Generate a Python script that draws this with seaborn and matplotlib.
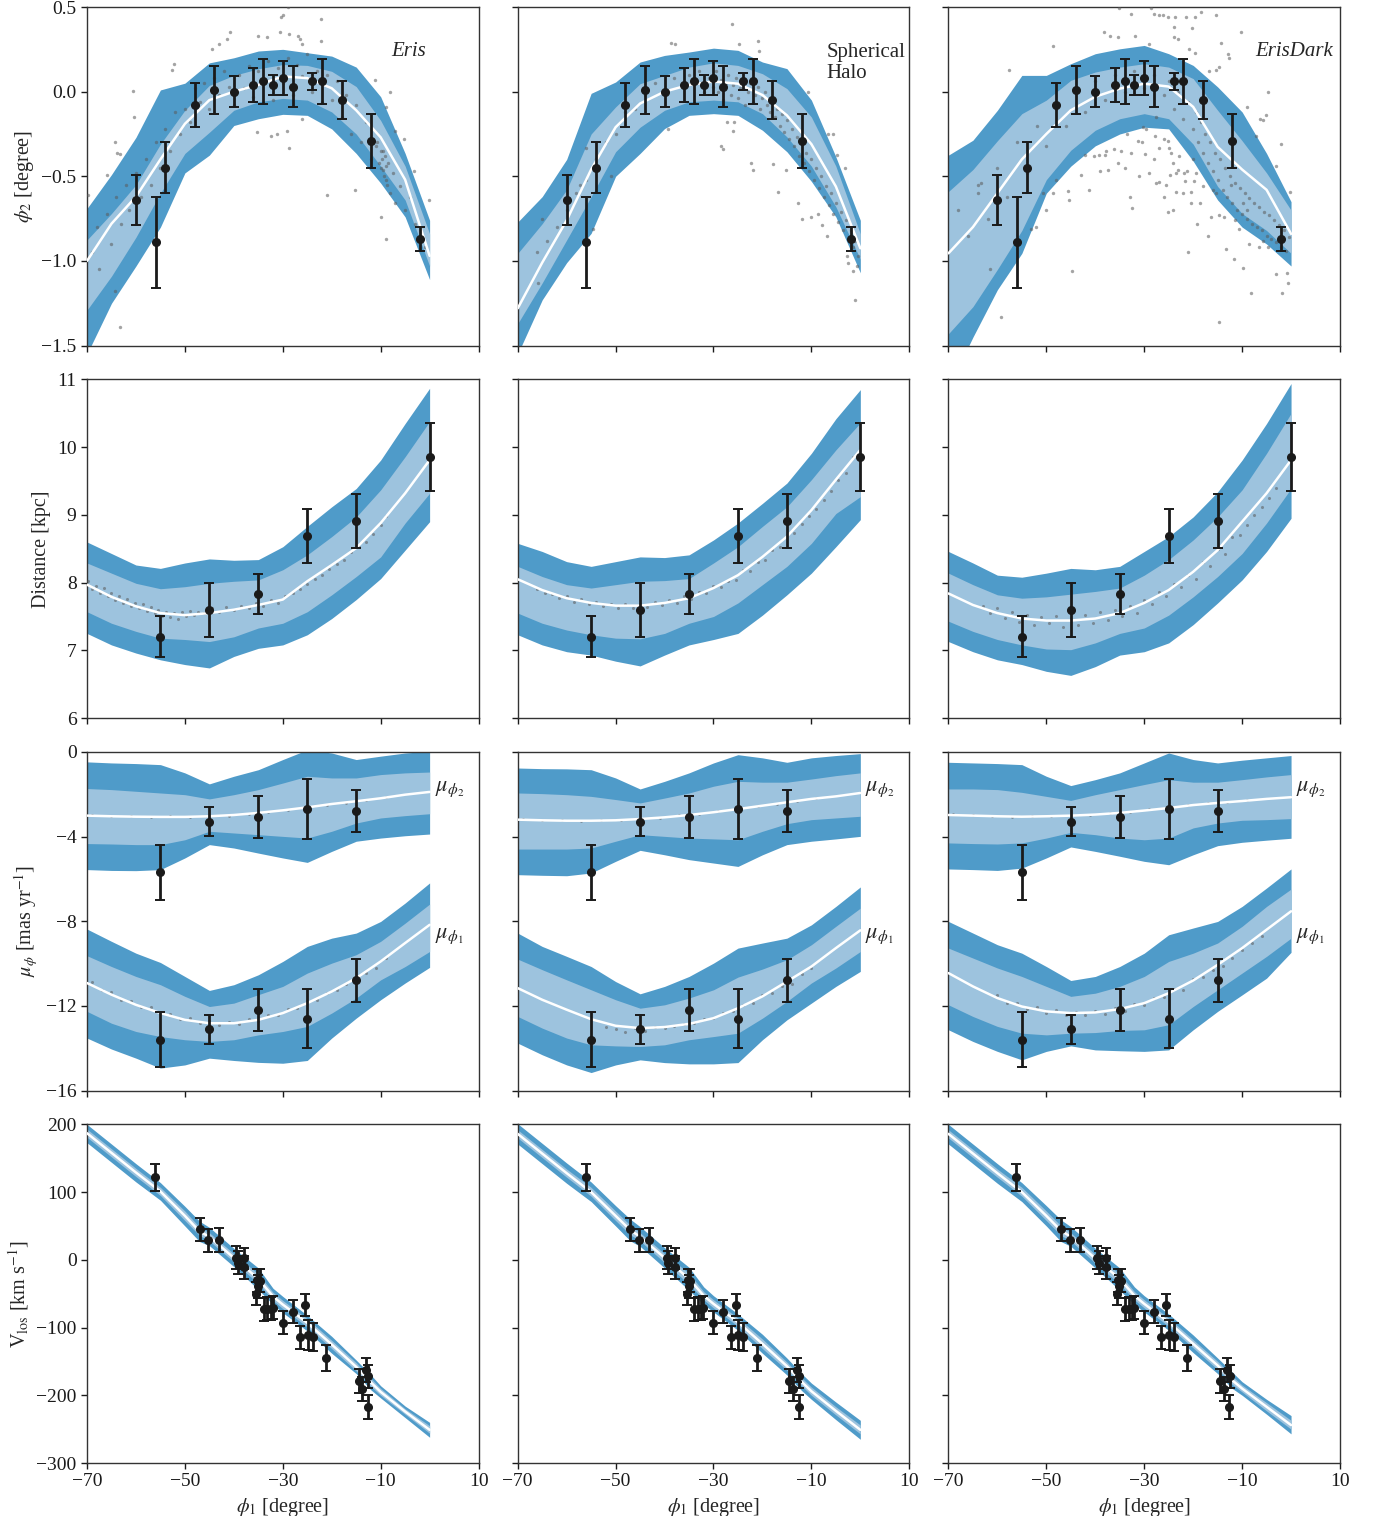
import numpy as np
import pandas as pd
import matplotlib
matplotlib.use("Agg")
import matplotlib.pyplot as plt
import seaborn as sns

# ---------------- data ----------------
KN = [-70, -65, -60, -55, -50, -45, -40, -35, -30, -25, -20, -15, -10, -5, 0]
MODELS = ["Eris", "Spherical", "ErisDark"]

# phi2 track: (outer_lo, inner_lo, mean, inner_up, outer_up)
phi2_eris = dict(
    olo=[-1.55, -1.25, -1.03, -0.80, -0.48, -0.375, -0.20, -0.16, -0.134, -0.14, -0.22, -0.365, -0.54, -0.74, -1.11],
    ilo=[-1.29, -1.09, -0.86, -0.60, -0.365, -0.24, -0.11, -0.06, -0.04, -0.05, -0.12, -0.25, -0.44, -0.64, -1.03],
    mean=[-1.0, -0.78, -0.62, -0.40, -0.19, -0.05, 0.0, 0.04, 0.09, 0.08, 0.02, -0.11, -0.27, -0.52, -0.97],
    iup=[-0.876, -0.72, -0.55, -0.31, -0.11, 0.037, 0.096, 0.135, 0.16, 0.155, 0.12, 0.03, -0.17, -0.44, -0.84],
    oup=[-0.69, -0.49, -0.27, 0.01, 0.05, 0.17, 0.20, 0.24, 0.25, 0.23, 0.21, 0.145, -0.03, -0.365, -0.76])
phi2_sph = dict(
    olo=[-1.55, -1.23, -1.01, -0.837, -0.50, -0.365, -0.218, -0.14, -0.13, -0.14, -0.228, -0.355, -0.53, -0.74, -1.07],
    ilo=[-1.37, -1.13, -0.876, -0.62, -0.355, -0.21, -0.11, -0.06, -0.05, -0.06, -0.13, -0.267, -0.44, -0.68, -0.99],
    mean=[-1.28, -1.01, -0.76, -0.46, -0.21, -0.07, 0.0, 0.04, 0.06, 0.047, -0.02, -0.14, -0.31, -0.56, -0.925],
    iup=[-0.955, -0.78, -0.58, -0.25, -0.09, 0.047, 0.096, 0.145, 0.17, 0.155, 0.106, 0.018, -0.15, -0.44, -0.84],
    oup=[-0.77, -0.62, -0.40, -0.01, 0.057, 0.175, 0.214, 0.234, 0.257, 0.244, 0.175, 0.136, -0.05, -0.385, -0.76])
phi2_dark = dict(
    olo=[-1.75, -1.45, -1.17, -0.955, -0.60, -0.44, -0.32, -0.25, -0.21, -0.22, -0.41, -0.64, -0.80, -0.90, -1.03],
    ilo=[-1.43, -1.27, -1.05, -0.82, -0.52, -0.346, -0.228, -0.16, -0.13, -0.16, -0.31, -0.56, -0.72, -0.82, -0.955],
    mean=[-0.955, -0.80, -0.60, -0.40, -0.25, -0.11, -0.03, 0.018, 0.047, 0.03, -0.09, -0.326, -0.46, -0.58, -0.84],
    iup=[-0.59, -0.46, -0.29, -0.13, -0.05, 0.067, 0.116, 0.145, 0.165, 0.145, 0.077, -0.11, -0.29, -0.48, -0.70],
    oup=[-0.375, -0.287, -0.11, 0.096, 0.096, 0.165, 0.224, 0.253, 0.273, 0.224, 0.155, 0.028, -0.12, -0.365, -0.65])

dist_eris = dict(
    olo=[7.25, 7.08, 6.96, 6.86, 6.79, 6.74, 6.91, 7.03, 7.08, 7.23, 7.47, 7.75, 8.06, 8.48, 8.90],
    ilo=[7.57, 7.40, 7.28, 7.18, 7.16, 7.13, 7.20, 7.33, 7.40, 7.57, 7.82, 8.09, 8.38, 8.88, 9.32],
    mean=[7.97, 7.79, 7.65, 7.55, 7.52, 7.55, 7.60, 7.67, 7.75, 8.02, 8.26, 8.51, 8.88, 9.32, 9.81],
    iup=[8.29, 8.14, 7.99, 7.91, 7.94, 7.99, 8.02, 8.04, 8.19, 8.41, 8.68, 8.97, 9.37, 9.86, 10.38],
    oup=[8.60, 8.43, 8.26, 8.21, 8.29, 8.35, 8.33, 8.34, 8.53, 8.83, 9.12, 9.39, 9.81, 10.35, 10.87])
dist_sph = dict(
    olo=[7.23, 7.08, 6.98, 6.93, 6.84, 6.77, 6.93, 7.08, 7.16, 7.25, 7.52, 7.82, 8.14, 8.53, 8.93],
    ilo=[7.55, 7.40, 7.30, 7.23, 7.18, 7.17, 7.25, 7.40, 7.50, 7.70, 7.97, 8.24, 8.58, 9.02, 9.27],
    mean=[8.05, 7.89, 7.77, 7.70, 7.66, 7.66, 7.70, 7.77, 7.92, 8.11, 8.38, 8.68, 9.07, 9.52, 9.96],
    iup=[8.24, 8.09, 7.97, 7.92, 7.97, 8.02, 8.03, 8.06, 8.29, 8.53, 8.83, 9.12, 9.52, 9.96, 10.36],
    oup=[8.58, 8.46, 8.31, 8.24, 8.31, 8.38, 8.37, 8.41, 8.63, 8.88, 9.17, 9.47, 9.91, 10.42, 10.85])
dist_dark = dict(
    olo=[7.13, 6.98, 6.86, 6.79, 6.69, 6.63, 6.76, 6.93, 6.98, 7.11, 7.38, 7.70, 8.04, 8.46, 8.95],
    ilo=[7.43, 7.28, 7.16, 7.08, 7.02, 7.01, 7.11, 7.25, 7.33, 7.52, 7.79, 8.09, 8.43, 8.88, 9.39],
    mean=[7.84, 7.67, 7.55, 7.47, 7.44, 7.44, 7.47, 7.55, 7.70, 7.89, 8.16, 8.48, 8.90, 9.32, 9.81],
    iup=[8.14, 7.97, 7.82, 7.77, 7.79, 7.83, 7.87, 7.92, 8.11, 8.34, 8.63, 8.97, 9.37, 9.91, 10.50],
    oup=[8.46, 8.29, 8.11, 8.08, 8.14, 8.21, 8.19, 8.24, 8.46, 8.68, 8.97, 9.34, 9.81, 10.35, 10.94])

mu2_eris = dict(
    olo=[-5.56, -5.60, -5.61, -5.56, -5.01, -4.38, -4.54, -4.78, -5.01, -5.22, -4.70, -4.22, -4.07, -3.96, -3.88],
    ilo=[-4.33, -4.35, -4.38, -4.38, -4.15, -3.75, -3.83, -3.91, -3.99, -4.07, -3.75, -3.36, -3.12, -3.01, -2.92],
    mean=[-3.01, -3.04, -3.06, -3.07, -3.07, -3.04, -2.98, -2.88, -2.76, -2.62, -2.46, -2.33, -2.19, -2.02, -1.89],
    iup=[-1.73, -1.78, -1.86, -1.94, -2.02, -2.22, -2.02, -1.78, -1.47, -1.15, -1.23, -1.23, -1.07, -0.99, -0.95],
    oup=[-0.47, -0.52, -0.55, -0.60, -0.99, -1.51, -1.15, -0.84, -0.36, 0.10, -0.05, -0.36, -0.20, -0.05, 0.03])
mu1_eris = dict(
    olo=[-13.52, -14.04, -14.47, -14.94, -14.79, -14.47, -14.58, -14.67, -14.71, -14.58, -13.52, -12.58, -11.71, -10.92, -10.18],
    ilo=[-12.26, -12.82, -13.21, -13.45, -13.60, -13.68, -13.60, -13.37, -13.21, -12.97, -12.34, -11.63, -10.77, -10.14, -9.43],
    mean=[-10.92, -11.47, -11.95, -12.34, -12.66, -12.82, -12.82, -12.66, -12.34, -11.87, -11.32, -10.69, -9.90, -9.03, -8.17],
    iup=[-9.63, -10.14, -10.61, -11.00, -11.55, -12.03, -11.87, -11.47, -11.08, -10.45, -9.98, -9.58, -8.95, -8.09, -7.19],
    oup=[-8.37, -8.95, -9.51, -9.95, -10.61, -11.27, -11.00, -10.53, -9.90, -9.19, -8.80, -8.56, -8.01, -7.14, -6.19])
mu2_sph = dict(
    olo=[-5.80, -5.83, -5.85, -5.72, -5.17, -4.65, -4.86, -5.09, -5.25, -5.41, -4.86, -4.38, -4.22, -4.11, -3.99],
    ilo=[-4.59, -4.59, -4.59, -4.54, -4.22, -3.91, -3.99, -4.07, -4.11, -4.15, -3.75, -3.39, -3.20, -3.12, -3.04],
    mean=[-3.20, -3.23, -3.25, -3.25, -3.23, -3.17, -3.09, -2.98, -2.85, -2.70, -2.54, -2.38, -2.22, -2.10, -1.94],
    iup=[-1.94, -1.97, -2.02, -2.10, -2.25, -2.41, -2.18, -1.94, -1.62, -1.39, -1.43, -1.43, -1.28, -1.12, -0.99],
    oup=[-0.76, -0.79, -0.80, -0.84, -1.23, -1.75, -1.39, -0.99, -0.52, -0.13, -0.28, -0.49, -0.28, -0.17, -0.08])
mu1_sph = dict(
    olo=[-13.76, -14.31, -14.79, -15.15, -14.79, -14.55, -14.68, -14.74, -14.74, -14.68, -13.60, -12.66, -11.87, -11.08, -10.37],
    ilo=[-12.50, -13.05, -13.52, -13.84, -13.89, -13.92, -13.84, -13.60, -13.45, -13.29, -12.58, -11.79, -10.92, -10.21, -9.43],
    mean=[-11.16, -11.71, -12.18, -12.63, -12.94, -13.05, -13.00, -12.85, -12.58, -12.11, -11.55, -10.85, -10.14, -9.27, -8.43],
    iup=[-9.79, -10.29, -10.77, -11.24, -11.71, -12.11, -11.95, -11.63, -11.24, -10.64, -10.26, -9.82, -9.11, -8.24, -7.38],
    oup=[-8.56, -9.19, -9.66, -10.14, -10.85, -11.43, -11.08, -10.61, -9.98, -9.27, -9.03, -8.80, -8.17, -7.30, -6.38])
mu2_dark = dict(
    olo=[-5.53, -5.56, -5.60, -5.49, -5.01, -4.49, -4.70, -4.93, -5.17, -5.33, -4.86, -4.43, -4.27, -4.17, -4.08],
    ilo=[-4.30, -4.33, -4.35, -4.30, -4.07, -3.80, -3.91, -4.07, -4.15, -4.07, -3.59, -3.36, -3.23, -3.20, -3.15],
    mean=[-2.98, -3.01, -3.04, -3.06, -3.04, -3.01, -2.96, -2.88, -2.77, -2.65, -2.51, -2.41, -2.32, -2.22, -2.14],
    iup=[-1.75, -1.75, -1.78, -1.91, -2.10, -2.29, -2.02, -1.78, -1.54, -1.31, -1.43, -1.43, -1.31, -1.18, -1.07],
    oup=[-0.49, -0.52, -0.55, -0.60, -1.15, -1.59, -1.31, -0.99, -0.52, -0.05, -0.36, -0.52, -0.39, -0.28, -0.17])
mu1_dark = dict(
    olo=[-13.13, -13.68, -14.15, -14.55, -14.15, -13.89, -14.08, -14.12, -14.15, -14.08, -13.13, -12.26, -11.48, -10.69, -9.47],
    ilo=[-11.95, -12.50, -12.97, -13.29, -13.37, -13.29, -13.26, -13.16, -13.13, -12.89, -12.03, -11.24, -10.45, -9.66, -8.80],
    mean=[-10.45, -11.08, -11.63, -12.03, -12.26, -12.34, -12.31, -12.15, -11.87, -11.40, -10.80, -10.06, -9.27, -8.40, -7.53],
    iup=[-9.27, -9.74, -10.21, -10.61, -11.08, -11.55, -11.40, -11.08, -10.61, -9.90, -9.51, -9.03, -8.24, -7.30, -6.48],
    oup=[-8.01, -8.56, -9.11, -9.51, -10.14, -10.80, -10.61, -10.14, -9.51, -8.64, -8.32, -8.01, -7.30, -6.43, -5.53])

VKN = [-70, -65, -60, -55, -50, -47, -45, -40, -35, -32, -30, -25, -20, -15, -12, -10, -5, 0]
vlos_eris = dict(
    olo=[173, 144, 115, 88, 50, 27, 21, -10, -44, -66, -78, -105, -138, -168, -192, -204, -233, -262],
    ilo=[181, 152, 123, 95, 58, 36, 28, -3, -35, -60, -72, -99, -131, -164, -187, -200, -228, -256],
    mean=[187, 158, 129, 101, 65, 42, 34, 3, -28, -54, -66, -93, -125, -158, -181, -195, -224, -251],
    iup=[193, 164, 135, 107, 72, 48, 40, 9, -21, -48, -60, -87, -119, -152, -175, -190, -220, -245],
    oup=[200, 171, 142, 114, 79, 57, 48, 17, -12, -42, -54, -82, -113, -148, -170, -186, -216, -240])
vlos_sph = dict(
    olo=[171, 142, 113, 86, 50, 28, 20, -12, -45, -66, -77, -104, -138, -170, -193, -206, -236, -265],
    ilo=[180, 151, 122, 94, 58, 37, 28, -4, -36, -59, -71, -98, -131, -163, -186, -200, -229, -257],
    mean=[186, 157, 128, 100, 65, 44, 34, 3, -28, -53, -65, -92, -124, -157, -180, -194, -223, -251],
    iup=[192, 163, 134, 107, 72, 51, 40, 9, -20, -47, -59, -86, -117, -151, -174, -188, -217, -244],
    oup=[201, 172, 143, 115, 80, 60, 49, 18, -11, -40, -53, -80, -110, -145, -168, -182, -210, -237])
vlos_dark = dict(
    olo=[171, 142, 113, 86, 50, 27, 20, -12, -45, -66, -77, -104, -137, -168, -190, -200, -228, -257],
    ilo=[180, 151, 122, 94, 58, 36, 28, -5, -36, -59, -71, -98, -130, -162, -184, -195, -223, -250],
    mean=[186, 157, 128, 100, 65, 43, 34, 2, -28, -53, -65, -92, -124, -156, -178, -190, -217, -244],
    iup=[192, 163, 134, 107, 72, 50, 40, 8, -21, -47, -59, -86, -118, -150, -172, -185, -211, -237],
    oup=[200, 171, 142, 114, 80, 59, 49, 17, -12, -40, -53, -80, -111, -145, -166, -180, -206, -230])

# observations (same for all columns)
obs_phi2_x = [-60, -56, -54, -48, -44, -40, -36, -34, -32, -30, -28, -24, -22, -18, -12, -2]
obs_phi2_y = [-0.64, -0.89, -0.45, -0.08, 0.01, 0.0, 0.04, 0.06, 0.04, 0.08, 0.03, 0.06, 0.06, -0.05, -0.29, -0.87]
obs_phi2_e = [0.15, 0.27, 0.15, 0.13, 0.14, 0.09, 0.10, 0.13, 0.06, 0.10, 0.12, 0.05, 0.13, 0.11, 0.16, 0.07]
obs_dist_x = [-55, -45, -35, -25, -15, 0]
obs_dist_y = [7.20, 7.59, 7.83, 8.69, 8.91, 9.86]
obs_dist_e = [0.30, 0.40, 0.30, 0.40, 0.40, 0.50]
obs_mu_x = [-55, -45, -35, -25, -15]
obs_mu2_y = [-5.69, -3.29, -3.09, -2.70, -2.79]
obs_mu2_e = [1.3, 0.7, 1.0, 1.4, 1.0]
obs_mu1_y = [-13.60, -13.11, -12.20, -12.61, -10.80]
obs_mu1_e = [1.3, 0.7, 1.0, 1.4, 1.0]
obs_v_x = [-56.1, -47.0, -45.2, -43.1, -39.6, -39.2, -37.9, -37.9, -35.5, -35.3, -35.1, -34.7, -33.9, -33.2,
           -32.5, -32.1, -30.0, -28.0, -26.5, -25.5, -24.9, -23.9, -21.2, -14.5, -13.8, -13.0, -12.5, -12.6]
obs_v_y = [122, 45, 29, 29, 3, -4, 2, -11, -50, -30, -39, -31, -73, -72,
           -72, -71, -93, -77, -114, -67, -111, -114, -145, -179, -191, -163, -172, -217]
obs_v_e = [20, 17, 17, 18, 17, 17, 16, 17, 17, 17, 17, 17, 17, 17,
           17, 17, 17, 17, 17, 16, 22, 20, 19, 18, 18, 18, 17, 18]

# simulated stream particles (phi1, value)
part_phi2_eris = [
    (-60.5, 0.004), (-60.4, -0.15), (-64.3, -0.30), (-63.9, -0.36), (-63.2, -0.37), (-66, -0.49), (-69.7, -0.61),
    (-64.3, -1.18), (-63.2, -1.39), (-52.3, 0.165), (-52.7, 0.126), (-44.5, 0.25), (-43.1, 0.28), (-40.7, 0.35),
    (-41.4, 0.31), (-35.1, 0.33), (-33.2, 0.32), (-30.6, 0.35), (-30.3, 0.44), (-30, 0.45), (-29, 0.50),
    (-28.8, 0.34), (-26.8, 0.33), (-26.5, 0.31), (-26.1, 0.28), (-22.2, 0.43), (-22.2, 0.30), (-35.3, -0.24),
    (-32.5, -0.26), (-31.2, -0.25), (-29.2, -0.23), (-28.8, -0.33), (-26.1, -0.16), (-21, -0.61), (-11.1, 0.067),
    (-8, 0.0), (-9, -0.09), (-7, -0.23), (-5.3, -0.28), (-3.2, -0.47), (-0.15, -0.64), (-9, -0.87), (-10, -0.74),
    (-15.2, -0.58),
    (-69, -0.95), (-68, -0.80), (-67.5, -1.05), (-66, -0.72), (-65, -0.90), (-64, -0.62), (-63, -0.78), (-62, -0.55),
    (-61.5, -0.70), (-60, -0.48), (-59, -0.62), (-58, -0.40), (-57, -0.55), (-56, -0.30), (-55, -0.45), (-54, -0.22),
    (-53, -0.35), (-52, -0.12), (-51, -0.25), (-50, -0.10), (-49, -0.18), (-48, 0.02), (-47, -0.06), (-46, 0.05),
    (-45, -0.10), (-44, 0.08), (-43, -0.02), (-42, 0.12), (-41, 0.03), (-40, -0.08), (-39, 0.10), (-38, 0.02),
    (-37, 0.15), (-36, -0.03), (-35, 0.12), (-34, 0.06), (-33, 0.18), (-32, -0.05), (-31, 0.14), (-30, 0.05),
    (-29, 0.20), (-28, -0.02), (-27, 0.16), (-26, 0.09), (-25, 0.22), (-24, 0.0), (-23, 0.12), (-22, -0.06),
    (-21, 0.10), (-20, -0.05), (-19, 0.06), (-18, -0.15), (-17, -0.02), (-16, -0.25), (-15, -0.08), (-14, -0.30),
    (-13, -0.18), (-12, -0.40), (-11, -0.32), (-10, -0.45), (-9.5, -0.35), (-9, -0.52), (-8.5, -0.42), (-8, -0.60),
    (-7.5, -0.48), (-7, -0.66), (-6, -0.56), (-5, -0.70), (-4, -0.62), (-3, -0.78), (-2, -0.85), (-1, -0.92),
    (-10, -0.35), (-9.8, -0.40), (-9.6, -0.46), (-9.4, -0.50), (-9.2, -0.38), (-9, -0.44), (-8.8, -0.55),
    (-10.4, -0.42), (-10.8, -0.30)]
part_phi2_sph = [
    (-26.2, 0.40), (-38.6, 0.29), (-37.9, 0.28), (-24.8, 0.28), (-21.0, 0.30), (-20.7, 0.24), (-10.6, 0.0),
    (-39.3, -0.22), (-28.4, -0.32), (-28.0, -0.34), (-26, -0.23), (-27.3, -0.18), (-25.8, -0.18), (-22.4, -0.42),
    (-21.9, -0.46), (-17.8, -0.43), (-16.8, -0.59), (-15.1, -0.46), (-12.7, -0.66), (-12, -0.75), (-10, -0.74),
    (-8.6, -0.72), (-7.9, -0.79), (-6.9, -0.85), (-6.6, -0.25), (-5.5, -0.25), (-4.7, -0.375), (-3.2, -0.45),
    (-2.8, -0.97), (-2.5, -1.01), (-1.6, -1.06), (-1.1, -1.23), (-0.7, -1.03), (-65, -0.75), (-54.6, -0.81),
    (-65.8, -1.13), (-50.9, -0.50), (-56, -0.33), (-57.2, -0.55),
    (-66, -0.95), (-64, -0.88), (-62, -0.80), (-60, -0.70), (-58, -0.60), (-56, -0.52), (-54, -0.40), (-52, -0.30),
    (-50, -0.25), (-48, -0.12), (-46, -0.10), (-44, -0.02), (-42, 0.05), (-40, -0.02), (-38, 0.08), (-36, 0.02),
    (-35, 0.10), (-34, 0.05), (-33, 0.12), (-32, 0.0), (-31, 0.08), (-30, 0.03), (-29.5, 0.12), (-29, 0.0),
    (-28.5, 0.07), (-28, -0.05), (-27.5, 0.05), (-27, 0.10), (-26.5, -0.02), (-26, 0.04), (-25.5, 0.08),
    (-25, -0.04), (-24.5, 0.02), (-24, 0.06), (-23.5, -0.08), (-23, 0.0), (-22.5, 0.05), (-22, -0.06),
    (-21.5, -0.02), (-21, 0.03), (-20.5, -0.10), (-20, -0.04), (-19.5, 0.0), (-19, -0.08), (-18.5, -0.12),
    (-18, -0.05), (-17.5, -0.15), (-17, -0.10), (-16.5, -0.20), (-16, -0.13), (-15.5, -0.24), (-15, -0.17),
    (-14.5, -0.28), (-14, -0.22), (-13.5, -0.32), (-13, -0.27), (-12.5, -0.38), (-12, -0.31), (-11.5, -0.42),
    (-11, -0.36), (-10.5, -0.47), (-10, -0.40), (-9.5, -0.52), (-9, -0.45), (-8.5, -0.57), (-8, -0.50),
    (-7.5, -0.62), (-7, -0.56), (-6.5, -0.67), (-6, -0.60), (-5.5, -0.72), (-5, -0.66), (-4.5, -0.77),
    (-4, -0.71), (-3.5, -0.82), (-3, -0.76), (-2.5, -0.87), (-2, -0.82), (-1.5, -0.92), (-1, -0.88), (-0.5, -0.97)]
part_phi2_dark = [
    (-35.2, 0.495), (-32.7, 0.46), (-28.7, 0.495), (-27.9, 0.46), (-27.0, 0.455), (-26.2, 0.45), (-25.2, 0.44),
    (-23.8, 0.44), (-21.5, 0.44), (-19.6, 0.44), (-18.4, 0.47), (-15.3, 0.45), (-24, 0.38), (-20.2, 0.375),
    (-23.9, 0.32), (-23.2, 0.31), (-38.3, 0.35), (-36.9, 0.33), (-35.4, 0.32), (-31.9, 0.33), (-29.1, 0.28),
    (-48.7, 0.27), (-57.7, 0.13), (-20.8, 0.25), (-19.6, 0.23), (-14.3, 0.29), (-10.2, 0.35), (-12.8, 0.22),
    (-12.7, 0.20), (-16.8, 0.12), (-15.4, 0.125), (-14.7, 0.145),
    (-48, -0.52), (-50, -0.70), (-48.7, -0.60), (-50.7, -0.60), (-45.6, -0.585), (-45.4, -0.64), (-42.9, -0.49),
    (-41.3, -0.58), (-42, -0.375), (-40.2, -0.38), (-39.2, -0.375), (-38, -0.375), (-39, -0.47), (-37.3, -0.46),
    (-36.1, -0.34), (-34.7, -0.35), (-35.4, -0.42), (-33, -0.62), (-32.5, -0.69), (-31, -0.50), (-32.7, -0.365),
    (-31.3, -0.29), (-30.3, -0.21), (-29.6, -0.22), (-29.8, -0.37), (-29, -0.48), (-27.8, -0.26), (-26.9, -0.33),
    (-25.9, -0.28), (-25.2, -0.29), (-24.9, -0.33), (-24.5, -0.365), (-24.2, -0.42), (-23.5, -0.48),
    (-23.2, -0.46), (-25.2, -0.71), (-27.6, -0.54), (-26.9, -0.535), (-25.5, -0.55), (-24.7, -0.49),
    (-23.6, -0.59), (-22.1, -0.60), (-21.8, -0.48), (-21.6, -0.53), (-21.3, -0.47), (-19.8, -0.53),
    (-19.4, -0.48), (-20.4, -0.66), (-20.4, -0.59), (-21.1, -0.95), (-19.2, -0.78), (-18.7, -0.66),
    (-16.4, -0.74), (-16, -0.58), (-15.3, -0.60), (-14.7, -0.73), (-13.6, -0.74), (-13.3, -0.93), (-11.6, -0.99),
    (-11.4, -0.76), (-10.6, -0.81), (-9.9, -1.04), (-8.5, -0.90), (-8.2, -1.19), (-6.5, -0.92), (-5.8, -0.88),
    (-4.8, -0.92), (-4.8, 0.0), (-5.1, -0.14), (-6.4, -0.16), (-5.8, -0.17), (-8.9, -0.09), (-7.2, -0.26),
    (-3.1, -0.44), (-2.1, -0.31), (-3.1, -1.08), (-1.9, -1.19), (-0.7, -1.13), (-0.2, -0.59), (-0.9, -1.07),
    (-14.7, -1.36), (-59.2, -1.33), (-53.1, -0.81), (-52.2, -0.80), (-61.6, -1.05), (-63.3, -0.54), (-64, -0.60),
    (-44.7, -1.06), (-37.8, -0.35), (-24.2, -0.70), (-12.3, -0.55), (-9.9, -0.66), (-8.9, -0.70), (-34, -0.45),
    (-28, -0.40), (-26, -0.62), (-22.8, -0.38), (-20, -0.40), (-18, -0.56), (-17, -0.85), (-27.5, -0.15),
    (-30.5, -0.30), (-33.5, -0.25),
    (-68, -0.70), (-66, -0.85), (-64, -0.55), (-62, -0.75), (-60, -0.45), (-58, -0.62), (-56, -0.30), (-54, -0.48),
    (-52, -0.20), (-50, -0.32), (-48, -0.10), (-46, -0.20), (-44, 0.0), (-42, -0.12), (-40, 0.06), (-38, -0.05),
    (-36, 0.10), (-34, 0.0), (-32, 0.12), (-30, 0.02), (-28, 0.10), (-26, -0.02), (-25, 0.06), (-24, -0.10),
    (-23, 0.0), (-22, -0.16), (-21, -0.06), (-20, -0.22), (-19.5, -0.12), (-19, -0.30), (-18.5, -0.18),
    (-18, -0.36), (-17.5, -0.25), (-17, -0.42), (-16.5, -0.30), (-16, -0.47), (-15.5, -0.36), (-15, -0.52),
    (-14.5, -0.40), (-14, -0.58), (-13.5, -0.45), (-13, -0.62), (-12.5, -0.50), (-12, -0.66), (-11.5, -0.54),
    (-11, -0.70), (-10.5, -0.57), (-10, -0.72), (-9.5, -0.60), (-9, -0.75), (-8.5, -0.63), (-8, -0.78),
    (-7.5, -0.66), (-7, -0.80), (-6.5, -0.68), (-6, -0.82), (-5.5, -0.71), (-5, -0.85), (-4.5, -0.73),
    (-4, -0.87), (-3.5, -0.76), (-3, -0.89), (-2.5, -0.79), (-2, -0.92), (-1.5, -0.82), (-1, -0.94), (-0.5, -0.86)]

part_dist_eris_x = [-69.8, -69, -68.2, -67.4, -66.6, -65.8, -65, -64.2, -63.4, -62.6, -61.8, -61, -60.2, -59.4,
                    -58.6, -57.8, -57, -56.2, -55.4, -54.6, -53.8, -53, -52.2, -51.4, -50.6, -49.8, -49, -48.2,
                    -47.4, -46, -44.5, -43, -41.5, -40, -38.5, -37, -35.5, -34, -32.5, -31, -29.5, -28, -26.5,
                    -25, -23.5, -22, -20.5, -19, -17.5, -16, -14.5, -13, -11.5, -10, -9]
part_dist_eris_y = [8.02, 7.90, 7.95, 7.85, 7.92, 7.80, 7.84, 7.74, 7.80, 7.70, 7.76, 7.66, 7.70, 7.62, 7.68,
                    7.58, 7.64, 7.55, 7.60, 7.50, 7.56, 7.49, 7.55, 7.47, 7.56, 7.50, 7.58, 7.52, 7.57, 7.55,
                    7.62, 7.57, 7.64, 7.60, 7.66, 7.62, 7.70, 7.66, 7.75, 7.70, 7.80, 7.85, 7.90, 7.98, 8.05,
                    8.12, 8.20, 8.28, 8.33, 8.45, 8.52, 8.60, 8.72, 8.85, 8.98]
part_dist_sph_x = [-66, -64.5, -63, -61.5, -60, -58.5, -57, -55.5, -54, -52.5, -51, -49.5, -48, -46.5, -45,
                   -43.5, -42, -40.5, -39, -37.5, -36, -34.5, -33, -31.5, -30, -28.5, -27, -25.5, -24, -22.5,
                   -21, -19.5, -18, -16.5, -15, -13.5, -12, -10.5, -9, -7.5, -6, -4.5, -3, -1.5]
part_dist_sph_y = [7.90, 7.84, 7.83, 7.77, 7.80, 7.72, 7.76, 7.68, 7.71, 7.65, 7.69, 7.62, 7.68, 7.63, 7.69,
                   7.64, 7.72, 7.67, 7.75, 7.70, 7.80, 7.76, 7.86, 7.84, 7.95, 7.94, 8.03, 8.04, 8.18, 8.17,
                   8.31, 8.34, 8.48, 8.53, 8.70, 8.74, 8.86, 8.98, 9.08, 9.22, 9.35, 9.52, 9.62, 9.85]
part_dist_dark_x = [-63, -61.5, -60, -58.5, -57, -55.5, -54, -52.5, -51, -49.5, -48, -46.5, -45, -43.5, -42,
                    -40.5, -39, -37.5, -36, -34.5, -33, -31.5, -30, -28.5, -27, -25.5, -24, -22.5, -21, -19.5,
                    -18, -16.5, -15, -13.5, -12, -10.5, -9, -7.5, -6, -4.5, -3]
part_dist_dark_y = [7.66, 7.55, 7.62, 7.48, 7.56, 7.42, 7.52, 7.38, 7.49, 7.40, 7.50, 7.35, 7.47, 7.37, 7.52,
                    7.40, 7.56, 7.45, 7.60, 7.50, 7.66, 7.55, 7.74, 7.68, 7.86, 7.80, 7.98, 7.93, 8.12, 8.06,
                    8.30, 8.24, 8.50, 8.42, 8.68, 8.70, 8.85, 9.00, 9.12, 9.25, 9.40]

part_mu1_eris_x = [-69, -67, -65, -63, -61, -59, -57, -55, -53, -51, -49, -47, -45, -43, -41, -39, -37, -35, -33,
                   -31, -29, -27, -25, -23, -21, -19, -17, -15, -13, -11, -9]
part_mu1_eris_y = [-10.85, -11.25, -11.35, -11.70, -11.75, -12.05, -12.05, -12.35, -12.40, -12.60, -12.55, -12.80,
                   -12.70, -12.90, -12.75, -12.85, -12.60, -12.70, -12.45, -12.45, -12.15, -12.10, -11.80, -11.70,
                   -11.40, -11.25, -10.95, -10.80, -10.45, -10.20, -9.75]
part_mu1_sph_x = [-52, -50, -48, -46, -44, -42, -40, -38, -36, -34, -32, -30, -28, -26, -24, -22, -20, -18, -16,
                  -14, -12, -10]
part_mu1_sph_y = [-13.0, -13.1, -13.25, -13.05, -13.2, -13.0, -13.05, -12.95, -12.85, -12.8, -12.6, -12.55,
                  -12.35, -12.25, -11.95, -11.85, -11.5, -11.4, -11.05, -10.95, -10.5, -10.2]
part_mu1_dark_x = [-60, -58, -56, -54, -52, -50, -48, -46, -44, -42, -40, -38, -36, -34, -32, -30, -28, -26, -24,
                   -22, -20, -18, -16, -14, -12, -10, -8, -6]
part_mu1_dark_y = [-11.5, -11.85, -11.85, -12.15, -12.05, -12.35, -12.2, -12.45, -12.3, -12.45, -12.25, -12.4,
                   -12.1, -12.25, -11.9, -11.95, -11.65, -11.6, -11.2, -11.25, -10.75, -10.65, -10.3, -10.1,
                   -9.75, -9.35, -9.05, -8.7]
part_mu2_x = [-69, -65, -61, -57, -53, -49, -45, -41, -37, -33, -29, -25, -21, -17, -13, -9]
part_mu2_eris_y = [-2.96, -3.02, -3.03, -3.08, -3.05, -3.09, -3.02, -3.01, -2.92, -2.86, -2.73, -2.64, -2.50,
                   -2.42, -2.26, -2.15]
part_mu2_sph_y = [-3.17, -3.22, -3.22, -3.27, -3.21, -3.22, -3.15, -3.10, -3.00, -2.92, -2.80, -2.70, -2.55,
                  -2.45, -2.30, -2.20]
part_mu2_dark_y = [-2.95, -3.00, -3.02, -3.07, -3.03, -3.05, -2.99, -2.96, -2.88, -2.82, -2.69, -2.60, -2.50,
                   -2.43, -2.35, -2.28]

# ---------------- style ----------------
DARK = "#4F9BC9"
LIGHT = "#9DC3DE"
PCOL = "#5a5a5a"

sns.set_theme(style="ticks")
plt.rcParams["font.family"] = ["Liberation Serif", "DejaVu Serif"]
plt.rcParams["mathtext.fontset"] = "stix"
plt.rcParams["axes.unicode_minus"] = True

fig, axes = plt.subplots(4, 3, figsize=(13.77, 15.16), dpi=100)
fig.subplots_adjust(left=87 / 1377, right=1340 / 1377, top=1 - 7 / 1516,
                    bottom=1 - 1463 / 1516, wspace=0.1, hspace=0.1)


def band(ax, x, d):
    ax.fill_between(x, d["olo"], d["oup"], color=DARK, lw=0, zorder=1)
    ax.fill_between(x, d["ilo"], d["iup"], color=LIGHT, lw=0, zorder=2)
    sns.lineplot(x=x, y=d["mean"], ax=ax, color="white", linewidth=1.8,
                 sort=False, estimator=None, zorder=4)


def parts(ax, xs, ys, s=6):
    sns.scatterplot(x=xs, y=ys, ax=ax, s=s, color=PCOL, alpha=0.55,
                    linewidth=0, zorder=3)


def obs(ax, x, y, e):
    ax.errorbar(x, y, yerr=e, fmt="o", color="k", ms=5.5, elinewidth=2.0,
                capsize=3.5, capthick=1.4, zorder=6)


phi2_sets = [phi2_eris, phi2_sph, phi2_dark]
phi2_parts = [part_phi2_eris, part_phi2_sph, part_phi2_dark]
dist_sets = [dist_eris, dist_sph, dist_dark]
dist_parts = [(part_dist_eris_x, part_dist_eris_y), (part_dist_sph_x, part_dist_sph_y),
              (part_dist_dark_x, part_dist_dark_y)]
mu2_sets = [mu2_eris, mu2_sph, mu2_dark]
mu1_sets = [mu1_eris, mu1_sph, mu1_dark]
mu1_parts = [(part_mu1_eris_x, part_mu1_eris_y), (part_mu1_sph_x, part_mu1_sph_y),
             (part_mu1_dark_x, part_mu1_dark_y)]
mu2_parts = [part_mu2_eris_y, part_mu2_sph_y, part_mu2_dark_y]
vlos_sets = [vlos_eris, vlos_sph, vlos_dark]

for c in range(3):
    # row 1: phi2
    ax = axes[0, c]
    band(ax, KN, phi2_sets[c])
    px = [p[0] for p in phi2_parts[c]]
    py = [p[1] for p in phi2_parts[c]]
    parts(ax, px, py)
    obs(ax, obs_phi2_x, obs_phi2_y, obs_phi2_e)
    ax.set_ylim(-1.5, 0.5)
    ax.set_yticks([-1.5, -1.0, -0.5, 0.0, 0.5])

    # row 2: distance
    ax = axes[1, c]
    band(ax, KN, dist_sets[c])
    parts(ax, dist_parts[c][0], dist_parts[c][1], s=5)
    obs(ax, obs_dist_x, obs_dist_y, obs_dist_e)
    ax.set_ylim(6, 11)
    ax.set_yticks([6, 7, 8, 9, 10, 11])

    # row 3: proper motions
    ax = axes[2, c]
    band(ax, KN, mu2_sets[c])
    band(ax, KN, mu1_sets[c])
    parts(ax, mu1_parts[c][0], mu1_parts[c][1], s=5)
    parts(ax, part_mu2_x, mu2_parts[c], s=4)
    obs(ax, obs_mu_x, obs_mu2_y, obs_mu2_e)
    obs(ax, obs_mu_x, obs_mu1_y, obs_mu1_e)
    ax.set_ylim(-16, 0)
    ax.set_yticks([-16, -12, -8, -4, 0])
    ax.text(1.0, -1.75, r"$\mu_{\phi_2}$", fontsize=16, ha="left", va="center")
    ax.text(1.0, -8.7, r"$\mu_{\phi_1}$", fontsize=16, ha="left", va="center")

    # row 4: line-of-sight velocity
    ax = axes[3, c]
    band(ax, VKN, vlos_sets[c])
    obs(ax, obs_v_x, obs_v_y, obs_v_e)
    ax.set_ylim(-300, 200)
    ax.set_yticks([-300, -200, -100, 0, 100, 200])
    ax.set_xlabel(r"$\phi_1$ [degree]", fontsize=14.5)

for r in range(4):
    for c in range(3):
        ax = axes[r, c]
        ax.set_xlim(-70, 10)
        ax.set_xticks([-70, -50, -30, -10, 10])
        ax.tick_params(direction="out", length=4, width=1, labelsize=14, colors="k",
                       labelleft=(c == 0), labelbottom=(r == 3))
        for sp in ax.spines.values():
            sp.set_visible(True)
            sp.set_color("#333333")
            sp.set_linewidth(1.0)
        if c > 0:
            ax.set_ylabel("")
        if r < 3:
            ax.set_xlabel("")

axes[0, 0].set_ylabel(r"$\phi_2$ [degree]", fontsize=14.5)
axes[1, 0].set_ylabel("Distance [kpc]", fontsize=14.5)
axes[2, 0].set_ylabel(r"$\mu_\phi$ [mas yr$^{-1}$]", fontsize=14.5)
axes[3, 0].set_ylabel(r"V$_{\rm los}$ [km s$^{-1}$]", fontsize=14.5)

axes[0, 0].text(-0.8, 0.235, "Eris", fontsize=15, style="italic", ha="right", va="center")
axes[0, 1].text(-6.9, 0.17, "Spherical\nHalo", fontsize=15, ha="left", va="center", linespacing=1.1)
axes[0, 2].text(8.6, 0.235, "ErisDark", fontsize=15, style="italic", ha="right", va="center")

fig.savefig("out.png", dpi=100)
